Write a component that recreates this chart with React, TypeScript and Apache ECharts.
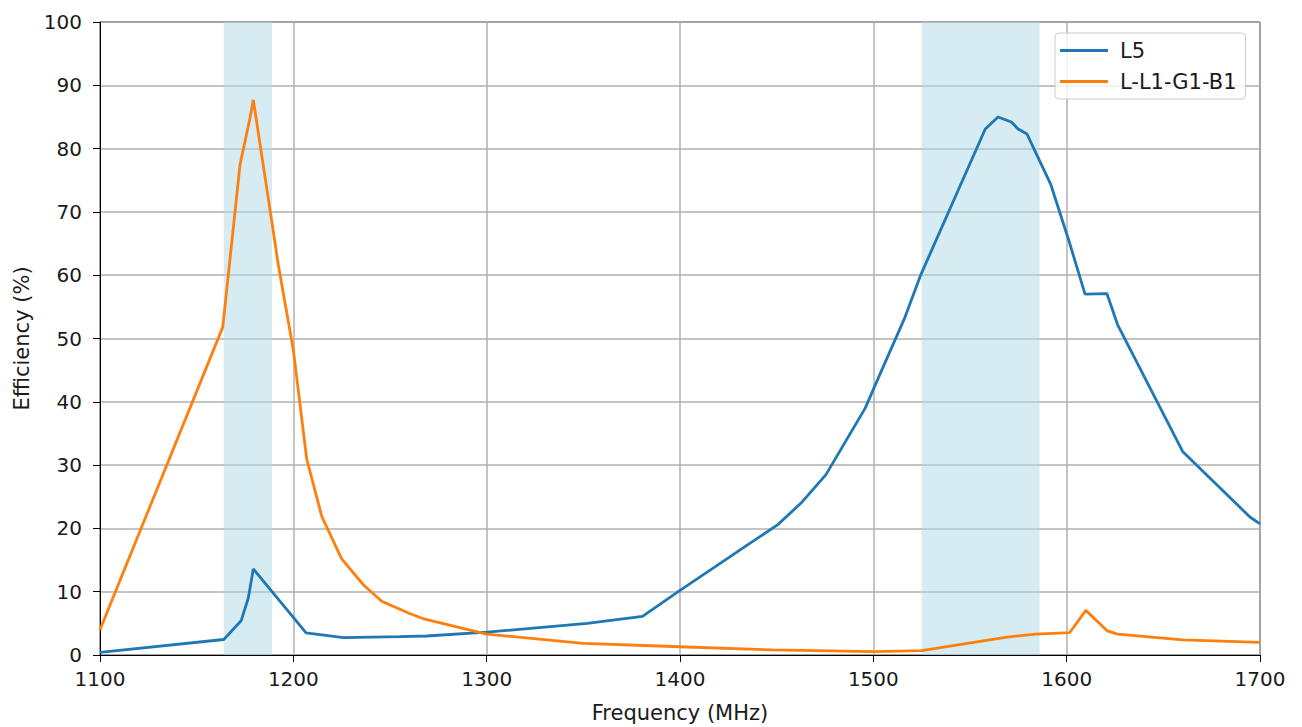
import React, { useEffect, useRef } from "react";
import * as echarts from "echarts";

const l5Freq = [1100, 1164, 1173, 1176.7, 1179.3, 1206.6, 1226, 1255, 1269, 1300, 1352, 1380.6, 1400, 1424.8, 1433, 1450.6, 1462.6, 1475.5, 1495.8, 1502.2, 1516.3, 1524.6, 1557.9, 1564.5, 1571.4, 1574.9, 1579.5, 1591.7, 1601.2, 1609.5, 1620.8, 1626.3, 1660.1, 1694.8, 1700];
const l5Eff = [0.4, 2.45, 5.4, 9, 13.6, 3.5, 2.75, 2.9, 3.0, 3.6, 5.0, 6.1, 10.2, 15.3, 17, 20.6, 24, 28.5, 39, 43.5, 53.3, 60.1, 83.1, 85, 84.2, 83.1, 82.3, 74.4, 65.4, 57, 57.1, 52.2, 32.1, 21.8, 20.7];

const l1Freq = [1100, 1163.5, 1172.4, 1177.7, 1179.3, 1187.9, 1192.2, 1200, 1206.9, 1214.7, 1225, 1236.2, 1245.7, 1259.8, 1268, 1300, 1350, 1400, 1448, 1500, 1525, 1568.3, 1584, 1601.6, 1609.9, 1621.1, 1626.3, 1660.1, 1700];
const l1Eff = [4.0, 51.8, 77.4, 85, 87.7, 70.4, 61.7, 48.2, 31, 21.9, 15.2, 11.1, 8.5, 6.6, 5.65, 3.3, 1.85, 1.3, 0.8, 0.53, 0.7, 2.8, 3.3, 3.55, 7.05, 3.8, 3.3, 2.4, 2.0];

const bands = [
  [1164, 1189],
  [1525, 1586],
];

const seriesNames = ["L5", "L-L1-G1-B1"];

export default function App() {
  const ref = useRef<HTMLDivElement>(null);
  useEffect(() => {
    if (!ref.current) return;
    const chart = echarts.init(ref.current, undefined, { renderer: "svg" });
    const font = "DejaVu Sans";
    const textColor = "#1a1a1a";
    chart.setOption({
      animation: false,
      textStyle: { fontFamily: font },
      grid: {
        left: 92,
        right: 34,
        top: 14,
        bottom: 72,
        outerBoundsMode: "none",
        containLabel: false,
        show: true,
        borderColor: "#000",
        borderWidth: 1,
        backgroundColor: "transparent",
      },
      legend: {
        show: true,
        orient: "vertical",
        left: 1047,
        top: 25,
        padding: [7, 9, 7, 5],
        itemGap: 10,
        itemWidth: 48,
        itemHeight: 3,
        icon: "rect",
        backgroundColor: "rgba(255,255,255,0.8)",
        borderColor: "#cccccc",
        borderWidth: 1,
        borderRadius: 4,
        textStyle: { fontFamily: font, fontSize: 21, color: textColor, padding: [0, 0, 0, 7] },
        data: seriesNames,
      },
      xAxis: {
        type: "value",
        min: 1100,
        max: 1700,
        interval: 100,
        name: "Frequency (MHz)",
        nameLocation: "middle",
        nameGap: 47,
        nameTextStyle: { fontFamily: font, fontSize: 21, color: textColor },
        axisLine: { show: true, onZero: false, lineStyle: { color: "#000", width: 1 } },
        axisTick: { show: true, inside: false, length: 7, lineStyle: { color: "#000" } },
        axisLabel: { fontFamily: font, fontSize: 20, color: textColor, margin: 14, formatter: (v: number) => String(v) },
        splitLine: { show: true, lineStyle: { color: "#b0b0b0", width: 1.5 } },
      },
      yAxis: {
        type: "value",
        min: 0,
        max: 100,
        interval: 10,
        name: "Efficiency (%)",
        nameLocation: "middle",
        nameGap: 66,
        nameTextStyle: { fontFamily: font, fontSize: 21, color: textColor },
        axisLine: { show: true, lineStyle: { color: "#000", width: 1 } },
        axisTick: { show: true, inside: false, length: 7, lineStyle: { color: "#000" } },
        axisLabel: { fontFamily: font, fontSize: 20, color: textColor, margin: 18, formatter: (v: number) => String(v) },
        splitLine: { show: true, lineStyle: { color: "#b0b0b0", width: 1.5 } },
      },
      series: [
        {
          name: seriesNames[0],
          type: "line",
          data: l5Freq.map((f, i) => [f, l5Eff[i]]),
          showSymbol: false,
          symbol: "none",
          lineStyle: { color: "#1f77b4", width: 2.8 },
          itemStyle: { color: "#1f77b4" },
          z: 3,
          markArea: {
            silent: true,
            itemStyle: { color: "rgba(173,216,230,0.5)" },
            data: bands.map((b) => [{ xAxis: b[0] }, { xAxis: b[1] }]),
          },
        },
        {
          name: seriesNames[1],
          type: "line",
          data: l1Freq.map((f, i) => [f, l1Eff[i]]),
          showSymbol: false,
          symbol: "none",
          lineStyle: { color: "#ff7f0e", width: 2.8 },
          itemStyle: { color: "#ff7f0e" },
          z: 4,
        },
      ],
    });
    return () => chart.dispose();
  }, []);
  return <div ref={ref} style={{ width: 1286, height: 719 }} />;
}
